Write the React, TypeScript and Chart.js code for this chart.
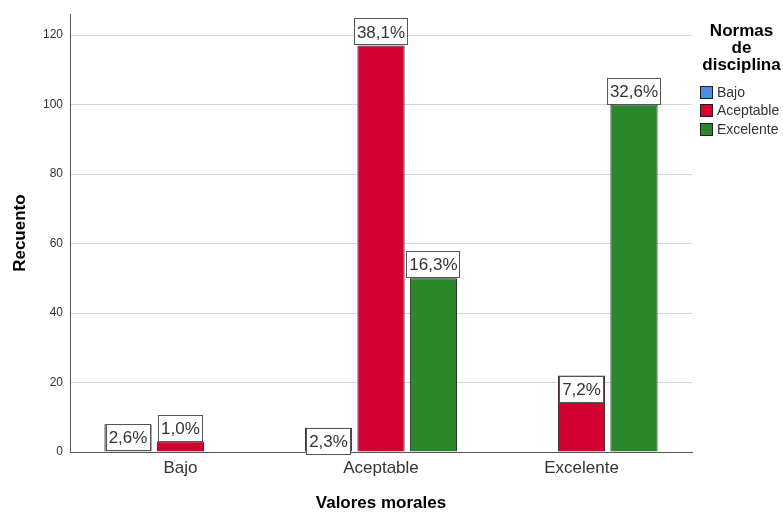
import React, { useEffect, useRef } from "react";
import { Chart, registerables } from "chart.js";

Chart.register(...registerables);

const categories = ["Bajo", "Aceptable", "Excelente"];
const seriesNames = ["Bajo", "Aceptable", "Excelente"];
const bajoValues = [8, 7, null];
const aceptableValues = [3, 117, 22];
const excelenteValues = [null, 50, 100];
const bajoLabels = ["2,6%", "2,3%", ""];
const aceptableLabels = ["1,0%", "38,1%", "7,2%"];
const excelenteLabels = ["", "16,3%", "32,6%"];
const bajoInside = [true, true, false];
const aceptableInside = [false, false, true];
const excelenteInside = [false, false, false];
const yTicks = [0, 20, 40, 60, 80, 100, 120];
const colors = ["#4a90e2", "#d50032", "#2a872a"];

const FONT = '"Liberation Sans", Arial, sans-serif';

export default function App() {
  const ref = useRef<HTMLCanvasElement | null>(null);

  useEffect(() => {
    if (!ref.current) return;
    const valueSets = [bajoValues, aceptableValues, excelenteValues];
    const labelSets = [bajoLabels, aceptableLabels, excelenteLabels];
    const insideSets = [bajoInside, aceptableInside, excelenteInside];

    const labelPlugin = {
      id: "barLabels",
      afterDatasetsDraw(chart: any) {
        const ctx = chart.ctx;
        ctx.save();
        ctx.font = `17px ${FONT}`;
        chart.data.datasets.forEach((ds: any, di: number) => {
          const meta = chart.getDatasetMeta(di);
          meta.data.forEach((el: any, i: number) => {
            const v = valueSets[di][i];
            const txt = labelSets[di][i];
            if (v === null || v === undefined || !txt) return;
            const w = ctx.measureText(txt).width + 6;
            const h = 27;
            const top = insideSets[di][i] ? el.y : el.y - h;
            const left = el.x - w / 2;
            ctx.fillStyle = "#ffffff";
            ctx.fillRect(Math.round(left), Math.round(top), Math.round(w), h);
            ctx.strokeStyle = "#555555";
            ctx.lineWidth = 1;
            ctx.strokeRect(Math.round(left) + 0.5, Math.round(top) + 0.5, Math.round(w) - 1, h - 1);
            ctx.fillStyle = "#333333";
            ctx.textAlign = "center";
            ctx.textBaseline = "middle";
            ctx.fillText(txt, el.x, top + h / 2 + 1);
          });
        });
        ctx.restore();
      },
    };

    const decorPlugin = {
      id: "decor",
      afterDraw(chart: any) {
        const ctx = chart.ctx;
        const area = chart.chartArea;
        ctx.save();
        ctx.fillStyle = "#000000";
        ctx.font = `bold 17px ${FONT}`;
        ctx.textAlign = "center";
        ctx.textBaseline = "middle";
        ctx.fillText("Valores morales", (area.left + area.right) / 2, 503);
        ctx.save();
        ctx.translate(20, (area.top + area.bottom) / 2);
        ctx.rotate(-Math.PI / 2);
        ctx.fillText("Recuento", 0, 0);
        ctx.restore();
        const titleLines = ["Normas", "de", "disciplina"];
        titleLines.forEach((t, i) => {
          ctx.fillText(t, 741.5, 31 + i * 17);
        });
        ctx.font = `14px ${FONT}`;
        ctx.textAlign = "left";
        seriesNames.forEach((name, i) => {
          const cy = 92 + i * 18.5;
          ctx.fillStyle = colors[i];
          ctx.fillRect(700, Math.round(cy - 6.5), 13, 13);
          ctx.strokeStyle = "#1e1e1e";
          ctx.lineWidth = 1;
          ctx.strokeRect(700.5, Math.round(cy - 6.5) + 0.5, 12, 12);
          ctx.fillStyle = "#333333";
          ctx.fillText(name, 717, cy + 1);
        });
        ctx.restore();
      },
    };

    const datasets = valueSets.map((vals, di) => ({
      label: seriesNames[di],
      data: vals.map((v, i) => ({ x: i, y: v })),
      backgroundColor: colors[di],
      borderColor: "#1e1e1e",
      borderWidth: 1,
      barPercentage: 0.9,
      categoryPercentage: 0.785,
    }));

    const chart = new Chart(ref.current, {
      type: "bar",
      data: { datasets: datasets as any },
      options: {
        animation: false,
        responsive: false,
        maintainAspectRatio: false,
        layout: { padding: { top: 14, right: 91, bottom: 0, left: 0 } },
        plugins: {
          legend: { display: false },
          tooltip: { enabled: false },
          title: { display: false },
        },
        scales: {
          x: {
            type: "linear",
            offset: false,
            min: -0.551,
            max: 2.551,
            afterBuildTicks: (axis: any) => {
              axis.ticks = categories.map((_, i) => ({ value: i }));
            },
            afterFit: (axis: any) => {
              axis.height = 60;
            },
            ticks: {
              callback: (v: any) => categories[Number(v)] ?? "",
              color: "#333333",
              font: { family: FONT, size: 17 },
              padding: 6,
              autoSkip: false,
              maxRotation: 0,
            },
            grid: { display: false, drawTicks: false, offset: false },
            border: { display: true, color: "#555555", width: 1 },
          },
          y: {
            type: "linear",
            min: 0,
            max: 126,
            afterBuildTicks: (axis: any) => {
              axis.ticks = yTicks.map((v) => ({ value: v }));
            },
            afterFit: (axis: any) => {
              axis.width = 70;
            },
            ticks: {
              color: "#333333",
              font: { family: FONT, size: 12 },
              padding: 7,
            },
            grid: { color: "#d4d4d4", lineWidth: 1, drawTicks: false },
            border: { display: true, color: "#555555", width: 1 },
          },
        },
      },
      plugins: [labelPlugin, decorPlugin],
    } as any);

    return () => chart.destroy();
  }, []);

  return (
    <div style={{ position: "fixed", left: 0, top: 0, width: 783, height: 512, background: "#ffffff" }}>
      <canvas ref={ref} width={783} height={512} style={{ width: 783, height: 512 }} />
    </div>
  );
}
